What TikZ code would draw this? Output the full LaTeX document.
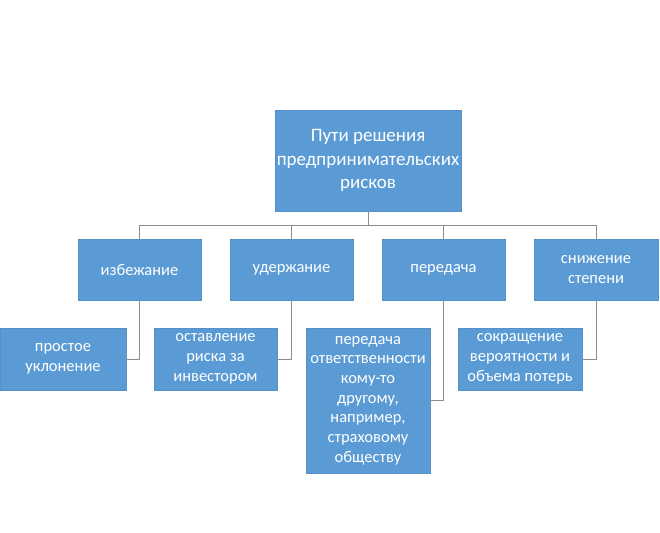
\documentclass[tikz,border=0pt]{standalone}
\usepackage{fontspec}
\setmainfont{Carlito}
\usepackage{xcolor}
\usetikzlibrary{positioning}
\definecolor{boxblue}{HTML}{5B9BD5}
\definecolor{boxedge}{HTML}{5590C8}
\definecolor{linegray}{HTML}{8C8C8C}
\tikzset{
  block/.style={draw=boxedge, fill=boxblue, text=white, align=center, inner sep=1pt,
    font=\fontsize{16.5}{19.7}\selectfont},
  link/.style={draw=linegray, line width=0.8pt}
}

\begin{document}
\begin{tikzpicture}[x=1pt, y=-1pt]
\useasboundingbox (0,0) rectangle (660,532);

\node[block, minimum width=186pt, minimum height=101pt, font=\fontsize{19}{23.5}\selectfont]
  (root) at (368,160.5) {Пути решения\\предпринимательских\\рисков};

\node[block, minimum width=123pt, minimum height=61pt] (avoid) at (139.5,269.5) {избежание};
\node[block, minimum width=123pt, minimum height=61pt] (keep) at (291.5,269.5) {удержание};
\node[block, minimum width=123pt, minimum height=61pt] (pass) at (443.5,269.5) {передача};
\node[block, minimum width=124pt, minimum height=61pt] (reduce) at (596,269.5) {снижение\\степени};

\node[block, minimum width=126pt, minimum height=62pt] (avoid1) at (63,359) {простое\\уклонение};
\node[block, minimum width=123pt, minimum height=62pt] (keep1) at (215.5,359) {оставление\\риска за\\инвестором};
\node[block, minimum width=124pt, minimum height=145pt] (pass1) at (368,400.5)
  {передача\\ответственности\\кому-то\\другому,\\например,\\страховому\\обществу};
\node[block, minimum width=124pt, minimum height=62pt] (reduce1) at (520,359) {сокращение\\вероятности и\\объема потерь};

% шина
\coordinate (bus) at (368,225);
\draw[link] (root.south) -- (bus);
\draw[link] (avoid.north) |- (bus);
\draw[link] (keep.north) |- (bus);
\draw[link] (pass.north) |- (bus);
\draw[link] (reduce.north) |- (bus);

\draw[link] (avoid.south) |- (avoid1.east);
\draw[link] (keep.south) |- (keep1.east);
\draw[link] (pass.south) |- (pass1.east);
\draw[link] (reduce.south) |- (reduce1.east);
\end{tikzpicture}
\end{document}
